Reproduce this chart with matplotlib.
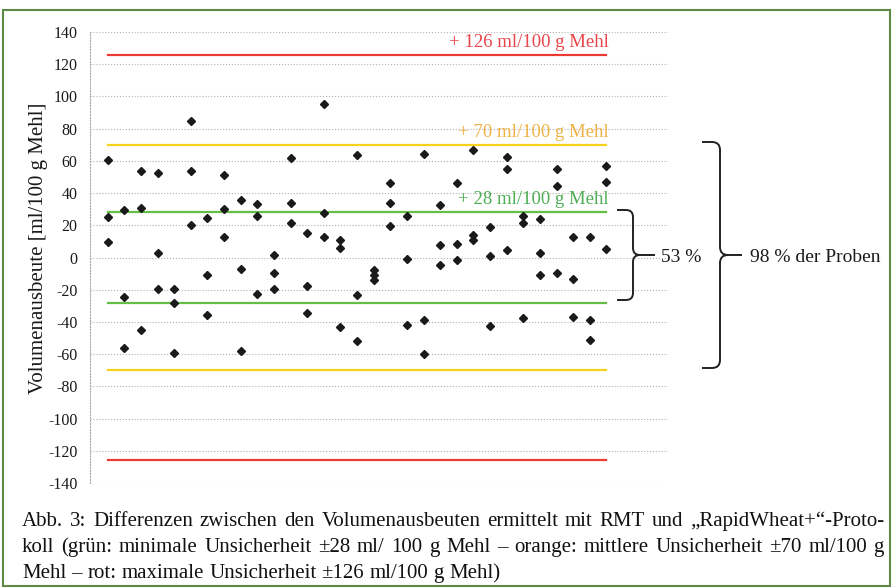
import numpy as np
import matplotlib
matplotlib.use("Agg")
import matplotlib.pyplot as plt
from matplotlib.path import Path
from matplotlib.patches import PathPatch, Rectangle

plt.rcParams['font.family'] = ['Liberation Serif', 'DejaVu Serif']
plt.rcParams['axes.unicode_minus'] = False

# Differenz RMT - RapidWheat+ je Probe (drei Werte pro Probe), ml/100 g Mehl
proben = list(range(1, 32))
differenzen = [
    [60.5, 25, 9.5], [29.5, -24.5, -56], [54, 31, -45], [52.5, 2.5, -19.5],
    [-19.5, -28, -59.5], [84.5, 53.5, 20], [24.5, -11, -35.5], [51, 30, 13],
    [35.5, -7, -58], [33, 26, -22.5], [1.5, -9.5, -19.5], [61.5, 34, 21.5],
    [15, -18, -34.5], [95.5, 27.5, 13], [11, 6, -43], [63.5, -23.5, -52],
    [-7.5, -11, -14], [46.5, 34, 19.5], [25.5, -1, -42], [64, -38.5, -60],
    [32.5, 8, -4.5], [46, 8.5, -1.5], [66.5, 14, 11], [19, 1, -42.5],
    [62.5, 55, 4.5], [25.5, 21.5, -37.5], [24, 2.5, -11], [55, 44.5, -9.5],
    [13, -13.5, -37], [13, -39, -51], [57, 47, 5.5],
]

# Unsicherheitsgrenzen
grenzen = [28, 70, 126]
grenz_farben = ['#66bf45', '#f6d21e', '#ec3b35']
text_farben = ['#4fae55', '#f0b246', '#e8454a']
grenz_texte = ['+ 28 ml/100 g Mehl', '+ 70 ml/100 g Mehl', '+ 126 ml/100 g Mehl']

yticks = list(range(-140, 141, 20))

W, H = 894, 588
fig = plt.figure(figsize=(W / 100, H / 100), dpi=100)


def fp(x, y):
    # Pixelkoordinaten (von oben links) -> Figurenkoordinaten
    return x / W, 1 - y / H


ax = fig.add_axes([90 / W, 1 - 483 / H, 578 / W, 451 / H])
ax.set_xlim(-0.06, 34.7)
ax.set_ylim(-140, 140)
ax.set_yticks(yticks)
ax.set_yticklabels([str(t) for t in yticks], fontsize=11.5, color='#1a1a1a')
ax.set_xticks([])
ax.tick_params(axis='y', length=0, pad=9)
for s in ['top', 'right', 'bottom']:
    ax.spines[s].set_visible(False)
ax.spines['left'].set_linestyle(':')
ax.spines['left'].set_color('#a8a8a8')
ax.spines['left'].set_linewidth(0.8)
ax.grid(axis='y', linestyle=':', color='#b0b0b0', linewidth=0.8)
ax.set_axisbelow(True)
ax.set_ylabel('Volumenausbeute [ml/100 g Mehl]', fontsize=15, labelpad=0,
              color='#1a1a1a')
ax.yaxis.set_label_coords(-0.072, 0.52)

x0, x1 = proben[0], proben[-1]
for g, c in zip(grenzen, grenz_farben):
    ax.plot([x0, x1], [g, g], color=c, lw=1.6, zorder=2)
    ax.plot([x0, x1], [-g, -g], color=c, lw=1.6, zorder=2)
for g, c, t in zip(grenzen, text_farben, grenz_texte):
    ax.text(x1 + 0.15, g + 2.5, t, color=c, fontsize=13.5, ha='right', va='bottom')

xs = np.repeat(proben, 3)
ys = np.array(differenzen).ravel()
ax.plot(xs, ys, 'D', color='#1a1a1a', ms=4, zorder=3)


def klammer(xa, xb, ytop, ybot, ymid, xtip, r):
    verts = [
        (xa, ytop), (xb - r, ytop), (xb, ytop), (xb, ytop + r),
        (xb, ymid - r), (xb, ymid), (xb + r, ymid), (xtip, ymid),
        (xb + r, ymid), (xb, ymid), (xb, ymid + r),
        (xb, ybot - r), (xb, ybot), (xb - r, ybot), (xa, ybot),
    ]
    codes = [
        Path.MOVETO, Path.LINETO, Path.CURVE3, Path.CURVE3,
        Path.LINETO, Path.CURVE3, Path.CURVE3, Path.LINETO,
        Path.MOVETO, Path.CURVE3, Path.CURVE3,
        Path.LINETO, Path.CURVE3, Path.CURVE3, Path.LINETO,
    ]
    p = Path([fp(*v) for v in verts], codes)
    fig.add_artist(PathPatch(p, fill=False, lw=1.4, edgecolor='#222222',
                             transform=fig.transFigure))


klammer(617, 633, 210, 300, 255, 655, 7)
klammer(702, 720, 142, 368, 255, 742, 8)
fig.text(*fp(661, 257), '53 %', fontsize=14, ha='left', va='center', color='#1a1a1a')
fig.text(*fp(750, 257), '98 % der Proben', fontsize=14, ha='left', va='center', color='#1a1a1a')

# Rahmen
fig.add_artist(Rectangle(fp(3, 586), 887 / W, 576 / H, transform=fig.transFigure,
                         fill=False, edgecolor='#5f8a45', lw=1.5))

# Bildunterschrift, Blocksatz
zeilen = [
    ('Abb. 3: Differenzen zwischen den Volumenausbeuten ermittelt mit RMT und '
     '\u201eRapidWheat+\u201c-Proto-', True),
    ('koll (grün: minimale Unsicherheit ±28 ml/ 100 g Mehl \u2013 orange: mittlere '
     'Unsicherheit ±70 ml/100 g', True),
    ('Mehl \u2013 rot: maximale Unsicherheit ±126 ml/100 g Mehl)', False),
]
renderer = fig.canvas.get_renderer()
links, rechts = 22, 884
fs = 15
for i, (zeile, block) in enumerate(zeilen):
    y = 526 + i * 26
    woerter = zeile.split(' ')
    texte = [fig.text(*fp(links, y), w, fontsize=fs, va='baseline', color='#111111')
             for w in woerter]
    breiten = [t.get_window_extent(renderer).width for t in texte]
    if block:
        abstand = (rechts - links - sum(breiten)) / (len(woerter) - 1)
    else:
        abstand = fs * 0.25 * 100 / 72
    x = links
    for t, b in zip(texte, breiten):
        t.set_position(fp(x, y))
        x += b + abstand

fig.savefig('out.png', dpi=100)
